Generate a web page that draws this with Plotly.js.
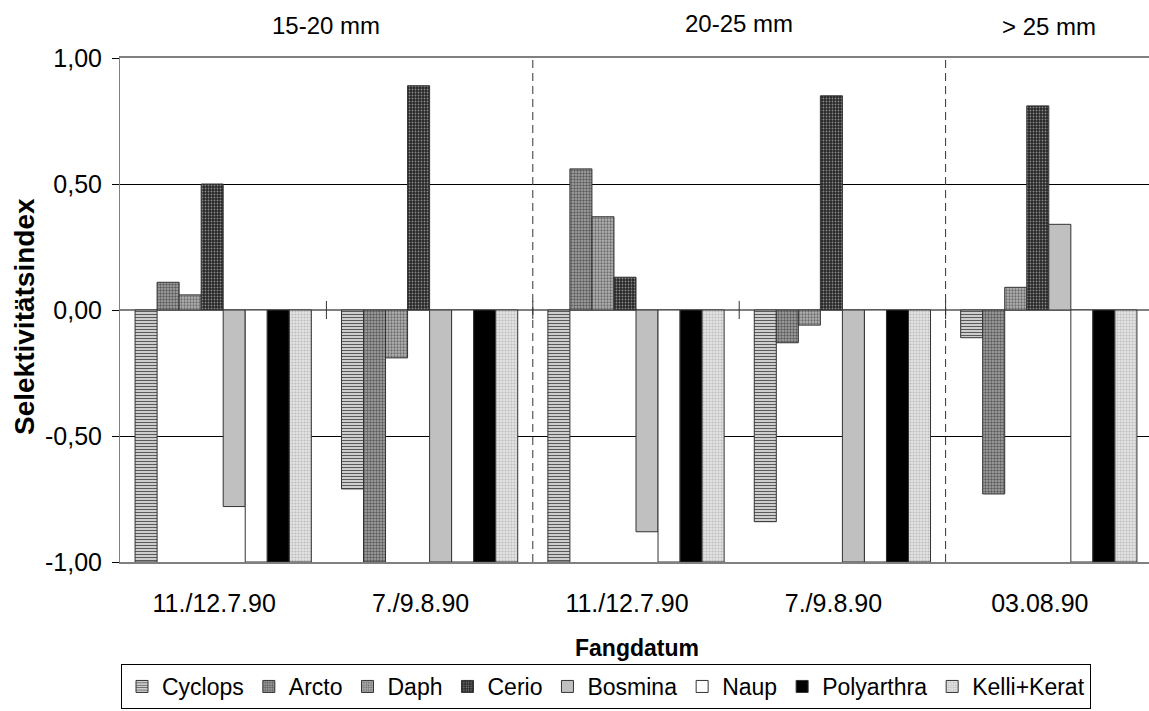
<!DOCTYPE html>
<html>
<head>
<meta charset="utf-8">
<script src="https://cdn.plot.ly/plotly-3.0.1.min.js"></script>
<style>
  html, body { margin: 0; padding: 0; overflow: hidden; background: #fff; }
  #chart { width: 1152px; height: 711px; }
</style>
</head>
<body>
<div id="chart"></div>
<script>
// ---- Data ----
const categories = ["11./12.7.90", "7./9.8.90", "11./12.7.90", "7./9.8.90", "03.08.90"];
const sizeClasses = ["15-20 mm", "20-25 mm", "> 25 mm"];
const sizeClassPos = [0.5, 2.5, 4];      // category positions of the size-class headers
const sizeClassBounds = [1.5, 3.5];      // dashed separators between size classes

const yTickVals = [-1, -0.5, 0, 0.5, 1];
const yTickText = ["-1,00", "-0,50", "0,00", "0,50", "1,00"];

const seriesNames = ["Cyclops", "Arcto", "Daph", "Cerio", "Bosmina", "Naup", "Polyarthra", "Kelli+Kerat"];
const cyclops    = [-1.00, -0.71, -1.00, -0.84, -0.11];
const arcto      = [ 0.11, -1.00,  0.56, -0.13, -0.73];
const daph       = [ 0.06, -0.19,  0.37, -0.06,  0.09];
const cerio      = [ 0.50,  0.89,  0.13,  0.85,  0.81];
const bosmina    = [-0.78, -1.00, -0.88, -1.00,  0.34];
const naup       = [-1.00, -1.00, -1.00, -1.00, -1.00];
const polyarthra = [-1.00, -1.00, -1.00, -1.00, -1.00];
const kelliKerat = [-1.00, -1.00, -1.00, -1.00, -1.00];
const seriesValues = [cyclops, arcto, daph, cerio, bosmina, naup, polyarthra, kelliKerat];

// ---- Styles ----
const fills = [
  {color: "#e6e6e6", pattern: {shape: "-", fgcolor: "#5a5a5a", bgcolor: "#e6e6e6", size: 3, solidity: 0.45}},
  {color: "#a0a0a0", pattern: {shape: ".", fgcolor: "#5c5c5c", bgcolor: "#a8a8a8", size: 3, solidity: 0.5}},
  {color: "#b0b0b0", pattern: {shape: ".", fgcolor: "#6c6c6c", bgcolor: "#b4b4b4", size: 3, solidity: 0.45}},
  {color: "#2a2a2a", pattern: {shape: ".", fgcolor: "#8a8a8a", bgcolor: "#262626", size: 3, solidity: 0.3}},
  {color: "#c0c0c0"},
  {color: "#ffffff"},
  {color: "#000000"},
  {color: "#dcdcdc", pattern: {shape: ".", fgcolor: "#bdbdbd", bgcolor: "#e4e4e4", size: 3, solidity: 0.4}}
];

const FONT = "Arial, 'Liberation Sans', sans-serif";

const xIdx = categories.map((_, i) => i);
const traces = seriesNames.map((name, k) => {
  const m = {color: fills[k].color, line: {color: "#333333", width: 1}};
  if (fills[k].pattern) m.pattern = Object.assign({fillmode: "replace"}, fills[k].pattern);
  return {type: "bar", name: name, x: xIdx, y: seriesValues[k], marker: m, hoverinfo: "x+y+name"};
});

// plot area geometry (pixels)
const W = 1152, H = 711, ML = 120, MR = 0, MT = 58, MB = 149;
const PH = H - MT - MB, PW = W - ML - MR;
const py = (pix) => (H - MB - pix) / PH;   // pixel y -> paper y
const px = (pix) => (pix - ML) / PW;       // pixel x -> paper x

const shapes = [];
sizeClassBounds.forEach(b => shapes.push({
  type: "line", xref: "x", yref: "paper", x0: b, x1: b, y0: 0, y1: 1,
  line: {color: "#333333", width: 1, dash: "8px,5px"}
}));
for (let i = 0; i < categories.length - 1; i++) {
  shapes.push({type: "line", xref: "x", yref: "y", x0: i + 0.5, x1: i + 0.5, y0: -0.036, y1: 0.036,
    line: {color: "#333333", width: 1}});
}

const headerY = [25, 23, 26];
const annotations = sizeClasses.map((t, i) => ({
  text: t, xref: "x", yref: "paper", x: sizeClassPos[i], y: py(headerY[i]),
  xanchor: "center", yanchor: "middle", showarrow: false, font: {family: FONT, size: 24, color: "#000"}
}));
annotations.push({
  text: "<b>Selektivitätsindex</b>", xref: "paper", yref: "paper", x: px(24), y: py(317),
  xanchor: "center", yanchor: "middle", textangle: -90, showarrow: false,
  font: {family: FONT, size: 28, color: "#000"}
});
annotations.push({
  text: "<b>Fangdatum</b>", xref: "paper", yref: "paper", x: px(637), y: py(648),
  xanchor: "center", yanchor: "middle", showarrow: false,
  font: {family: FONT, size: 23, color: "#000"}
});

const layout = {
  width: W, height: H,
  margin: {l: ML, r: MR, t: MT, b: MB, pad: 0},
  paper_bgcolor: "#ffffff", plot_bgcolor: "#ffffff",
  font: {family: FONT, size: 23, color: "#000"},
  barmode: "group", bargap: 0.146, bargroupgap: 0,
  showlegend: true,
  legend: {
    orientation: "h", x: px(606), xanchor: "center", y: py(709), yanchor: "bottom",
    bordercolor: "#000", borderwidth: 1, bgcolor: "#fff",
    font: {family: FONT, size: 23, color: "#000"}, traceorder: "normal",
    itemwidth: 30
  },
  xaxis: {
    range: [-0.5, categories.length - 0.5],
    tickmode: "array", tickvals: xIdx, ticktext: categories,
    showgrid: false, zeroline: false, ticks: "",
    showline: true, linecolor: "#808080", linewidth: 2, mirror: true,
    ticklabelstandoff: 18, ticklabelshift: -9,
    tickfont: {family: FONT, size: 25, color: "#000"}
  },
  yaxis: {
    range: [-1, 1], tickmode: "array", tickvals: yTickVals, ticktext: yTickText,
    showgrid: true, gridcolor: "#000", gridwidth: 1,
    zeroline: true, zerolinecolor: "#808080", zerolinewidth: 2,
    showline: true, linecolor: "#808080", linewidth: 1, mirror: true,
    ticks: "outside", ticklen: 7, tickcolor: "#000",
    ticklabelstandoff: 5,
    tickfont: {family: FONT, size: 25, color: "#000"}
  },
  shapes: shapes,
  annotations: annotations
};

Plotly.newPlot("chart", traces, layout, {staticPlot: true, displayModeBar: false});
</script>
</body>
</html>
